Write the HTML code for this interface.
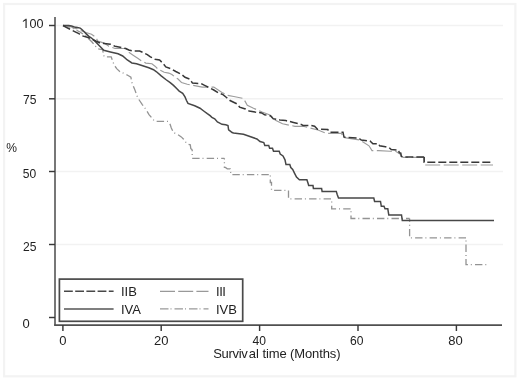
<!DOCTYPE html>
<html><head><meta charset="utf-8">
<style>
html,body{margin:0;padding:0;background:#fff;}
body{width:520px;height:381px;overflow:hidden;position:relative;}
svg{position:absolute;left:0;top:0;filter:grayscale(1);}
text{font-family:"Liberation Sans",sans-serif;font-size:13px;fill:#222;}
</style></head><body>
<svg width="520" height="381" viewBox="0 0 520 381">
<!-- outer faint frame -->
<rect x="4.1" y="4" width="511.3" height="372.3" fill="none" stroke="#f3f3f3" stroke-width="2.2"/>
<!-- gridlines -->
<g stroke="#f2f2f2" stroke-width="1.6">
<line x1="56" y1="25.5" x2="503" y2="25.5"/>
<line x1="56" y1="98.7" x2="503" y2="98.7"/>
<line x1="56" y1="171.5" x2="503" y2="171.5"/>
<line x1="56" y1="244.5" x2="503" y2="244.5"/>
</g>
<!-- axes -->
<g stroke="#555" stroke-width="1.6" fill="none">
<line x1="55" y1="17" x2="55" y2="325.8"/>
<line x1="54.2" y1="325.1" x2="502" y2="325.1" stroke-width="1.6" stroke="#505050"/>
</g>
<g stroke="#383838" stroke-width="1.45">
<line x1="49" y1="25.5" x2="55" y2="25.5"/>
<line x1="49" y1="98.8" x2="55" y2="98.8"/>
<line x1="49" y1="171.5" x2="55" y2="171.5"/>
<line x1="49" y1="244.5" x2="55" y2="244.5"/>
<line x1="49" y1="317.5" x2="55" y2="317.5"/>
<line x1="62.9" y1="325" x2="62.9" y2="331"/>
<line x1="161.2" y1="325" x2="161.2" y2="331"/>
<line x1="259.6" y1="325" x2="259.6" y2="331"/>
<line x1="358" y1="325" x2="358" y2="331"/>
<line x1="456.4" y1="325" x2="456.4" y2="331"/>
</g>
<!-- y labels -->
<path d="M25.5 18.7h1.15v9.3h-1.15zM25.6 18.7l-2.7 2.2v1.1l2.7-1.8z" fill="#222"/><text transform="translate(29.5,28) scale(0.97,1.02)">00</text>
<text transform="translate(23.1,104.4) scale(0.93,1.05)">75</text>
<text transform="translate(22.7,178.2) scale(0.93,1.05)">50</text>
<text transform="translate(23.1,250.6) scale(0.93,1.05)">25</text>
<text transform="translate(22.6,327.5) scale(1,1.05)">0</text>
<text transform="translate(6.3,152) scale(0.93,1.04)">%</text>
<!-- x labels -->
<text x="62.9" y="344.5" text-anchor="middle">0</text>
<text x="161.2" y="344.5" text-anchor="middle">20</text>
<text transform="translate(259.2,344.5) scale(0.93,1)" text-anchor="middle">40</text>
<text transform="translate(356.8,344.5) scale(0.93,1)" text-anchor="middle">60</text>
<text x="455.5" y="344.5" text-anchor="middle">80</text>
<text x="213.2" y="357.5"><tspan letter-spacing="-0.3">Surviv</tspan><tspan dx="1.3">al</tspan><tspan letter-spacing="-0.12"> time (Months)</tspan></text>

<!-- curves -->
<g id="curves" fill="none" stroke-linejoin="miter">
<polyline stroke="#939393" stroke-width="1.3" stroke-dasharray="7.4 2.9 1 3.2" points="63,25.5 70,27 80,32 86,36 92,42 97.8,48.9 102.6,49.7 104.1,56.8 111.2,56.8 112.8,61.5 114.4,65.4 116.7,68.6 119.9,71.7 123.8,73.3 128.5,75.7 130.9,77.2 131.7,82 134.5,88.9 137.8,97.9 142.3,104.6 145.6,109 149,114.6 154.6,121.3 168,121.3 170.2,124.6 171.3,128 173.5,132.5 178,134.7 181.3,136.9 183.6,139.2 185,141 186.9,143.8 190.3,144.8 190.8,148.7 192.2,149.6"/>
<polyline stroke="#939393" stroke-width="1.3" stroke-dasharray="7.4 2.9 1 3.2" stroke-dashoffset="5.80" points="192.2,149.6 192.2,158.3 224.4,158.3"/>
<polyline stroke="#939393" stroke-width="1.3" stroke-dasharray="7.4 2.9 1 3.2" stroke-dashoffset="6.29" points="224.4,158.3 224.4,167.4 225.4,167.4 227.3,168.8 230.2,168.8 231,174.7 270.3,174.7"/>
<polyline stroke="#939393" stroke-width="1.3" stroke-dasharray="7.4 2.9 1 3.2" stroke-dashoffset="9.60" points="270.3,174.7 270.3,182.5 271.5,182.5 271.5,190.3 288.5,190.3"/>
<polyline stroke="#939393" stroke-width="1.3" stroke-dasharray="7.4 2.9 1 3.2" stroke-dashoffset="14.40" points="288.5,190.3 288.5,198.8 331.7,198.8"/>
<polyline stroke="#939393" stroke-width="1.3" stroke-dasharray="7.4 2.9 1 3.2" stroke-dashoffset="7.50" points="331.7,198.8 331.7,208.8 351,208.8"/>
<polyline stroke="#939393" stroke-width="1.3" stroke-dasharray="7.4 2.9 1 3.2" stroke-dashoffset="7.80" points="351,208.8 351,218.5 409.6,218.5"/>
<polyline stroke="#939393" stroke-width="1.3" stroke-dasharray="7.4 2.9 1 3.2" stroke-dashoffset="4.10" points="409.6,218.5 409.6,237.9 466,237.9"/>
<polyline stroke="#939393" stroke-width="1.3" stroke-dasharray="7.4 2.9 1 3.2" stroke-dashoffset="7.80" points="466,237.9 466,264.6 487,264.6"/>
<polyline stroke="#9c9c9c" stroke-width="1.15" stroke-dasharray="15 3.5" points="63,25.5 70,26.5 74.4,28.3 77.3,28.9 82,31 86,32.5 91.5,34.2 95.7,37.3 97.8,41 104.2,43.1 108.8,46.2 115,48.5 125.8,48.5 128.8,52.3 133.5,55.4 138.1,58.5 141.2,60.8 145.8,63.1 151.9,63.8 155,66.2 158.1,69.2 164.2,72.3 168.8,73.1 171.9,74.6 175,76.9 178,79 181.5,82.5 187.3,84.2 193.1,85.4 202.3,87.1 213.8,87.1 215.6,88.3 222,92.5 227.7,95.4 233.8,96.5 243.5,98.5 247.3,105.2 253,108 262,112 270,115 275,120 282.5,123.8 295,126.3 303,126.3 318,130 326,133.3 341.2,133.3 344,137.5 360,140 369,145.8 372,150.6 378.7,150.6 390,151.3 396,151.5 400,154 403,157.3 423.5,157.3"/>
<polyline stroke="#9c9c9c" stroke-width="1.15" stroke-dasharray="15 3.5" stroke-dashoffset="9.86" points="423.5,157.3 424.3,165 493,165"/>
<polyline stroke="#474747" stroke-width="1.5" points="63,25.5 68.7,25.5 71.5,26 74.4,26.9 77.3,27.5 80.2,28.1 81.9,29.5 84.2,31.8 86.5,34.1 88.9,36.4 91.5,38 95,41.2 99.6,46 103.8,50.2 110.4,51.9 118.1,53.8 122.7,56 127.3,60 131.9,63 136.5,63.8 142.7,65.8 148.8,67.8 153.5,69.7 156.5,71.8 161.2,75.8 165.8,79.5 170.2,82.6 173.5,85.4 176.9,88.8 179.2,91.1 182.7,93.4 185,96.9 186.5,100.5 188,103.4 194.7,105.7 200,108.2 203.7,111 207.3,113.7 210.1,115.6 211.9,117.4 214.7,118.8 217.4,122 219.3,122.9 222,124.3 225.7,124.7 228,125.5 228.6,129.8 230.3,131.1 232.1,132.5 233.5,133 243.5,134.2 249.2,136.2 256.9,139 260,141.5 263.8,142.5 264.8,145.4 268.7,145.4 269.6,148.3 272.5,148.3 273.5,151.2 279.2,151.2 280.2,154 283,156 285,159.8 286,164.6 289.8,164.6 290.8,167.5 292.7,169.4 294.6,173.3 296.5,177.1 299.4,179.8 306.9,179.8 308.2,183.7 308.7,185.6 313,185.6 313.4,188.4 321.6,188.4 322.1,191.4 336.3,191.4 337.2,194.5 338.5,198 373.8,198 374.6,201.5 380.5,201.5 381.3,206.3 384,206.3 385,208.8 387.8,208.8 388.8,215 401.5,215 402.3,220.5 494,220.5"/>
<polyline stroke="#383838" stroke-width="1.5" stroke-dasharray="8 3" points="63,25.5 66.3,27.4 70.5,29.5 74.7,31.6 78.9,33.7 82.1,35.8 87.3,37.3 91.5,38.9 95.7,41 100,43 104,43.5 110.4,44.2 115,46.2 125.8,48.5 128.8,50 133.5,51.1 139.6,51.1 142.7,52.3 147.3,54.6 150.4,56.9 155,59.2 159.6,60 162.7,63.1 165.8,66.9 170.4,68.5 175.8,71.5 181.5,74.4 185,77.3 189.6,79 192.5,83.1 201.1,83.6 204.6,85.4 209.2,87.7 213.8,90 218.4,92.9 223,94.6 226.5,97.5 230,100.5 237.7,104.2 239.6,107.1 245.4,109 249.2,111 255,112 261.7,112.9 264.6,114.8 270.4,115.8 273.3,118.7 280,120 285.8,120.6 289.6,121.5 293.5,122.5 301.2,124.4 303,125.4 310.8,125.4 314.6,126.3 317.5,129.2 327.7,129.4 329.6,132.3 343,132.3 344,137.1 358.5,138.1 361.3,140 370,141 372.9,143.8 378.7,143.8 379.6,145.8 385.4,146.7 389.2,147.7 391.2,149.6 398.7,150 399.2,152.7 400.8,153.2 401.3,156.4 402.9,157 424.2,157"/>
<polyline stroke="#383838" stroke-width="1.5" stroke-dasharray="8 3" stroke-dashoffset="2.60" points="424.2,157 424.2,162.3 491.2,162.3"/>
</g>

<!-- legend -->
<rect x="59.4" y="279.1" width="183.3" height="42.2" fill="#fff" stroke="#4a4a4a" stroke-width="1.7"/>
<line x1="64" y1="291.3" x2="113.6" y2="291.3" stroke="#484848" stroke-width="1.5" stroke-dasharray="8.8 2.4"/>
<line x1="64" y1="309" x2="113.6" y2="309" stroke="#555" stroke-width="1.5"/>
<line x1="160" y1="291.3" x2="208.5" y2="291.3" stroke="#999" stroke-width="1.2" stroke-dasharray="15 3.2"/>
<line x1="160" y1="308.8" x2="208.5" y2="308.8" stroke="#999" stroke-width="1.2" stroke-dasharray="8.5 2 1 3"/>
<text x="121" y="296">IIB</text>
<text x="121" y="313.5">IVA</text>
<text x="216" y="296" letter-spacing="-0.45">III</text>
<text x="216" y="313.5">IVB</text>
</svg>
</body></html>
